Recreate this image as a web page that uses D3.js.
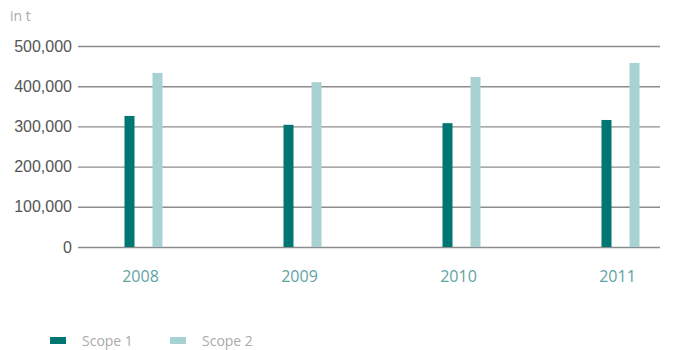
<!DOCTYPE html>
<html>
<head>
<meta charset="utf-8">
<script src="https://cdn.jsdelivr.net/npm/d3@7"></script>
<style>
  body { margin: 0; background: #fff; }
</style>
</head>
<body>
<div id="draw"></div>
<script>
const years = ['2008', '2009', '2010', '2011'];
const seriesNames = ['Scope 1', 'Scope 2'];
const scope1 = [326000, 304000, 308000, 316000];
const scope2 = [433000, 410000, 423000, 458000];
const yTicks = [0, 100000, 200000, 300000, 400000, 500000];
const colors = ['#007672', '#a8d1d1'];

let width = 680,
    height = 350;

let svg = d3.select('#draw')
    .append('svg')
    .attr('width', width)
    .attr('height', height);

let xScale = d3.scaleBand().domain(years).range([64, 700]);
let inner = d3.scaleBand().domain(seriesNames).range([-19, 19]).paddingInner(0.643);
let yScale = d3.scaleLinear().domain([0, 500000]).range([247, 46]);

// grid + y labels
let yAxis = svg.append('g')
    .attr('transform', 'translate(660,0)')
    .call(d3.axisLeft(yScale).tickValues(yTicks).tickSize(582).tickPadding(6)
        .tickFormat(d3.format(',')));
yAxis.select('.domain').remove();
yAxis.selectAll('line').attr('stroke', '#8c8c8c').attr('stroke-width', 1.4);
yAxis.selectAll('text')
    .attr('fill', '#555')
    .style('font-family', 'Liberation Sans, Arial, sans-serif')
    .style('font-size', '16px');

// x labels
let xAxis = svg.append('g')
    .attr('transform', 'translate(0,267)')
    .call(d3.axisBottom(xScale).tickSize(0).tickPadding(4));
xAxis.select('.domain').remove();
xAxis.selectAll('text')
    .attr('fill', '#5ea3a2')
    .attr('dx', '-3')
    .style('font-family', 'Open Sans, sans-serif')
    .style('font-size', '16px');

svg.append('text')
    .attr('x', 10)
    .attr('y', 21)
    .text('in t')
    .attr('fill', '#aaa')
    .style('font-family', 'Open Sans, sans-serif')
    .style('font-size', '14px');

let data = years.map((y, i) => ({ year: y, values: [scope1[i], scope2[i]] }));

let groups = svg.append('g')
    .selectAll('g')
    .data(data)
    .enter()
    .append('g')
    .attr('transform', d => 'translate(' + (xScale(d.year) + xScale.bandwidth() / 2) + ',0)');

groups.selectAll('rect')
    .data(d => d.values.map((v, j) => ({ key: seriesNames[j], value: v, j: j })))
    .enter()
    .append('rect')
    .attr('x', d => inner(d.key))
    .attr('width', inner.bandwidth())
    .attr('y', d => yScale(d.value))
    .attr('height', d => yScale(0) - yScale(d.value))
    .attr('fill', d => colors[d.j]);

let legend = svg.append('g').attr('transform', 'translate(50,335)');
let items = legend.selectAll('g')
    .data(seriesNames)
    .enter()
    .append('g')
    .attr('transform', (d, i) => 'translate(' + (i * 120) + ',0)');
items.append('rect')
    .attr('width', 16)
    .attr('height', 7)
    .attr('y', 2)
    .attr('fill', (d, i) => colors[i]);
items.append('text')
    .attr('x', 32)
    .attr('y', 11)
    .text(d => d)
    .attr('fill', '#aaa')
    .style('font-family', 'Open Sans, sans-serif')
    .style('font-size', '14px');
</script>
</body>
</html>
